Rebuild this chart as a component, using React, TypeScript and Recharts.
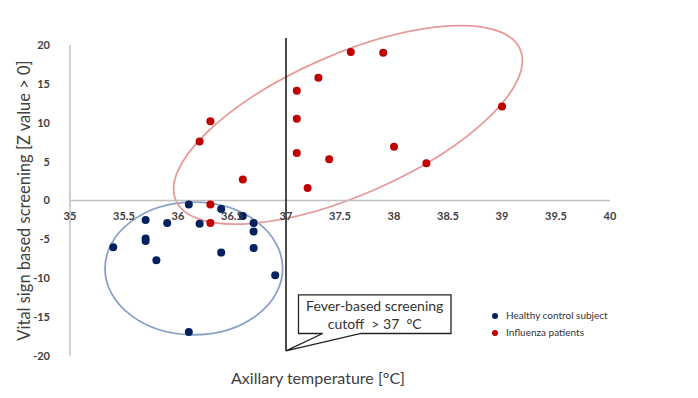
import React from "react";
import {
  ScatterChart,
  Scatter,
  XAxis,
  YAxis,
  ReferenceLine,
  ReferenceArea,
  ReferenceDot,
} from "recharts";

// ---- data ----
const xTicks = [35, 35.5, 36, 36.5, 37, 37.5, 38, 38.5, 39, 39.5, 40];
const yTicks = [-20, -15, -10, -5, 0, 5, 10, 15, 20];

const healthyX = [36.1, 36.4, 36.6, 35.7, 35.9, 36.2, 36.7, 36.7, 35.7, 35.7, 35.4, 36.4, 36.7, 35.8, 36.9, 36.1];
const healthyY = [-0.5, -1.1, -2.0, -2.5, -2.9, -3.0, -2.9, -4.0, -4.9, -5.2, -6.0, -6.7, -6.1, -7.7, -9.6, -16.9];

const fluX = [36.3, 36.2, 36.6, 37.1, 37.1, 37.1, 37.6, 37.9, 37.3, 37.4, 37.2, 38.0, 38.3, 39.0, 36.3, 36.3];
const fluY = [10.2, 7.6, 2.7, 14.1, 10.5, 6.1, 19.1, 19.0, 15.8, 5.3, 1.6, 6.9, 4.8, 12.1, -0.5, -2.9];

const healthy = healthyX.map((x, i) => ({ x, y: healthyY[i] }));
const flu = fluX.map((x, i) => ({ x, y: fluY[i] }));

const legendItems = ["Healthy control subject", "Influenza patients"];

// ellipse annotations (bounding box in data units, rotation in degrees)
const blueEllipse = { x1: 35.324, x2: 36.969, y1: -17.27, y2: -0.22, angle: 0 };
const redEllipse = { x1: 37.574 - 1.741, x2: 37.574 + 1.741, y1: 9.73 - 9.02, y2: 9.73 + 9.02, angle: -23.75 };

const cutoffX = 37;
const cutoffTop = 20.9;
const cutoffBottom = -19.33;

// ---- layout ----
const W = 698;
const H = 398;
const X_AXIS_H = 20;
const M = { top: 45, right: 88, bottom: 22, left: 0 };
const PLOT_BOTTOM = H - M.bottom - X_AXIS_H;
const PLOT_H = PLOT_BOTTOM - M.top;
const Y_MIN = -20;
const Y_MAX = 20;
const ZERO_FROM_BOTTOM = (PLOT_H * (0 - Y_MIN)) / (Y_MAX - Y_MIN);
const FONT = "Lato, 'Open Sans', sans-serif";
const BLUE = "#002060";
const RED = "#c00000";
const COLORS = [BLUE, RED];

const XTick = (props: any) => {
  const { x, payload } = props;
  // place the label just under the zero line (the axis crosses at y = 0)
  const yy = PLOT_BOTTOM - ZERO_FROM_BOTTOM + 17;
  return (
    <text
      x={x}
      y={yy}
      textAnchor="middle"
      dominantBaseline="middle"
      fontFamily={FONT}
      fontWeight="bold"
      fontSize={11}
      fill="#404040"
    >
      {payload.value}
    </text>
  );
};

const makeEllipse = (stroke: string, angle: number) => (props: any) => {
  const { x, y, width, height } = props;
  const cx = x + width / 2;
  const cy = y + height / 2;
  return (
    <ellipse
      cx={cx}
      cy={cy}
      rx={Math.abs(width) / 2}
      ry={Math.abs(height) / 2}
      fill="none"
      stroke={stroke}
      strokeWidth={1.8}
      transform={`rotate(${angle} ${cx} ${cy})`}
    />
  );
};

const Callout = (props: any) => {
  const { cx, cy } = props;
  const l = cx + 12.5;
  const r = cx + 165;
  const t = cy - 56;
  const b = cy - 17.3;
  const w1 = cx + 36.6;
  const w2 = cx + 75;
  const d = `M ${l} ${t} L ${r} ${t} L ${r} ${b} L ${w2} ${b} L ${cx} ${cy} L ${w1} ${b} L ${l} ${b} Z`;
  const mid = (l + r) / 2;
  return (
    <g>
      <path d={d} fill="#fff" stroke="#222" strokeWidth={1.3} />
      <text x={mid} y={t + 13} textAnchor="middle" dominantBaseline="middle" fontFamily={FONT} fontSize={14} fill="#333">
        Fever-based screening
      </text>
      <text
        x={mid}
        y={t + 31}
        textAnchor="middle"
        dominantBaseline="middle"
        fontFamily={FONT}
        fontSize={14}
        fill="#333"
        style={{ whiteSpace: "pre" }}
      >
        {"cutoff  > 37  °C"}
      </text>
    </g>
  );
};

const dot = (fill: string) => (props: any) => <circle cx={props.cx} cy={props.cy} r={4} fill={fill} />;

export default function App() {
  return (
    <div style={{ position: "absolute", left: 0, top: 0, width: W, height: H, background: "#fff" }}>
      <ScatterChart width={W} height={H} margin={M}>
        <XAxis
          type="number"
          dataKey="x"
          domain={[35, 40]}
          ticks={xTicks}
          axisLine={false}
          tickLine={false}
          height={X_AXIS_H}
          tick={<XTick />}
          interval={0}
        />
        <YAxis
          type="number"
          dataKey="y"
          domain={[Y_MIN, Y_MAX]}
          ticks={yTicks}
          width={70}
          axisLine={{ stroke: "#c0c0c0", strokeWidth: 1.5 }}
          tickLine={false}
          tickMargin={14}
          interval={0}
          tick={{ fontFamily: FONT, fontWeight: "bold", fontSize: 11, fill: "#404040" }}
          label={{
            value: "Vital sign based screening [Z value > 0]",
            angle: -90,
            position: "insideLeft",
            offset: 0,
            dx: 24,
            style: { fontFamily: FONT, fontSize: 16.5, fill: "#404040", textAnchor: "middle" },
          }}
        />
        <ReferenceLine y={0} stroke="#c0c0c0" strokeWidth={1.5} />
        <ReferenceArea
          x1={blueEllipse.x1}
          x2={blueEllipse.x2}
          y1={blueEllipse.y1}
          y2={blueEllipse.y2}
          ifOverflow="visible"
          shape={makeEllipse("#8aa0c6", blueEllipse.angle)}
        />
        <ReferenceArea
          x1={redEllipse.x1}
          x2={redEllipse.x2}
          y1={redEllipse.y1}
          y2={redEllipse.y2}
          ifOverflow="visible"
          shape={makeEllipse("#e89a9a", redEllipse.angle)}
        />
        <ReferenceLine
          segment={[
            { x: cutoffX, y: cutoffTop },
            { x: cutoffX, y: cutoffBottom },
          ]}
          ifOverflow="visible"
          stroke="#111"
          strokeWidth={1.5}
        />
        <ReferenceDot x={cutoffX} y={cutoffBottom} ifOverflow="visible" shape={<Callout />} />
        <Scatter name={legendItems[0]} data={healthy} fill={BLUE} shape={dot(BLUE)} isAnimationActive={false} />
        <Scatter name={legendItems[1]} data={flu} fill={RED} shape={dot(RED)} isAnimationActive={false} />
      </ScatterChart>
      <div
        style={{
          position: "absolute",
          left: 492,
          top: 307,
          fontFamily: FONT,
          fontSize: 10,
          color: "#333",
          lineHeight: "17px",
        }}
      >
        {legendItems.map((t, i) => (
          <div key={t} style={{ display: "flex", alignItems: "center" }}>
            <span
              style={{
                display: "inline-block",
                width: 6,
                height: 6,
                borderRadius: 3,
                background: COLORS[i],
                marginRight: 8,
              }}
            />
            {t}
          </div>
        ))}
      </div>
      <div
        style={{
          position: "absolute",
          left: 48,
          width: 540,
          top: 368,
          textAlign: "center",
          fontFamily: FONT,
          fontSize: 16,
          color: "#404040",
        }}
      >
        Axillary temperature [°C]
      </div>
    </div>
  );
}
